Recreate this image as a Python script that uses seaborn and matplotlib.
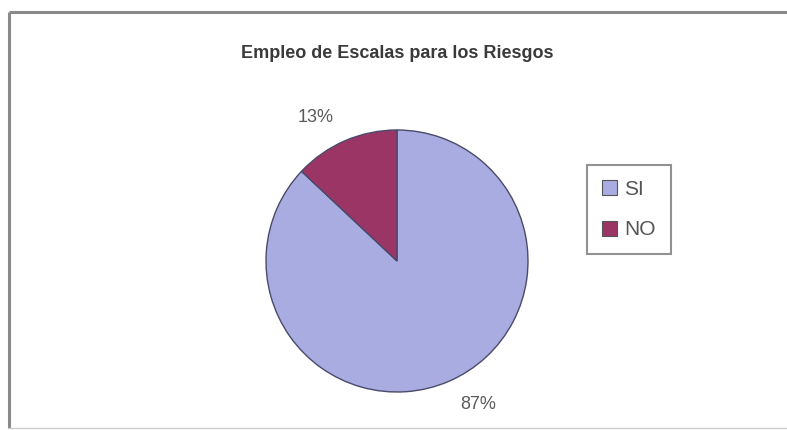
import matplotlib
matplotlib.use("Agg")
import numpy as np
import matplotlib.pyplot as plt
from matplotlib.patches import Patch
import seaborn as sns

# Survey answers: use of risk scales
categories = ["SI", "NO"]
shares = [87, 13]
title = "Empleo de Escalas para los Riesgos"

sns.set_theme(style="white")
plt.rcParams["font.family"] = ["Liberation Sans", "DejaVu Sans"]
colors = ["#A9ACE0", "#9B3566"]

W, H = 787, 430
fig = plt.figure(figsize=(W / 100, H / 100), dpi=100)
fig.patch.set_facecolor("white")
ax = fig.add_axes([0, 0, 1, 1])

cx, cy, R = 397, 169, 131
wedges, texts, autotexts = ax.pie(
    shares,
    colors=colors,
    startangle=90,
    counterclock=False,
    center=(cx, cy),
    radius=R,
    autopct="%1.0f%%",
    pctdistance=1.25,
    wedgeprops=dict(edgecolor="#4a4a6a", linewidth=1.0),
    textprops=dict(color="#5a5a5a", fontsize=13),
)
# nudge percentage labels a little counter-clockwise, outside the rim
for w, t in zip(wedges, autotexts):
    mid = np.deg2rad((w.theta1 + w.theta2) / 2 + 6)
    t.set_position((cx + 1.26 * R * np.cos(mid), cy + 1.26 * R * np.sin(mid)))

ax.set_xlim(0, W)
ax.set_ylim(0, H)
ax.set_aspect("equal")
ax.axis("off")

# chart frame
ax.plot([9, 9], [2, 418], color="#8a8a8a", lw=2.2, solid_capstyle="butt")
ax.plot([9, W], [418, 418], color="#8a8a8a", lw=2.2, solid_capstyle="butt")
ax.plot([9, W], [2, 2], color="#cccccc", lw=1.0)

ax.text(397, 376, title, ha="center", va="center", fontsize=13,
        fontweight="bold", color="#3a3a3a")

handles = [Patch(facecolor=c, edgecolor="#555555", linewidth=0.8) for c in colors]
leg = ax.legend(handles, categories, loc="upper left",
                bbox_to_anchor=(587 / W, 1 - 165 / H), borderaxespad=0,
                frameon=True, fancybox=False, fontsize=15,
                handlelength=0.75, handleheight=0.75, handletextpad=0.35,
                labelspacing=1.05, borderpad=0.7, labelcolor="#555555")
leg.get_frame().set_edgecolor("#777777")
leg.get_frame().set_linewidth(1.5)

fig.savefig("out.png", dpi=100, facecolor="white")
